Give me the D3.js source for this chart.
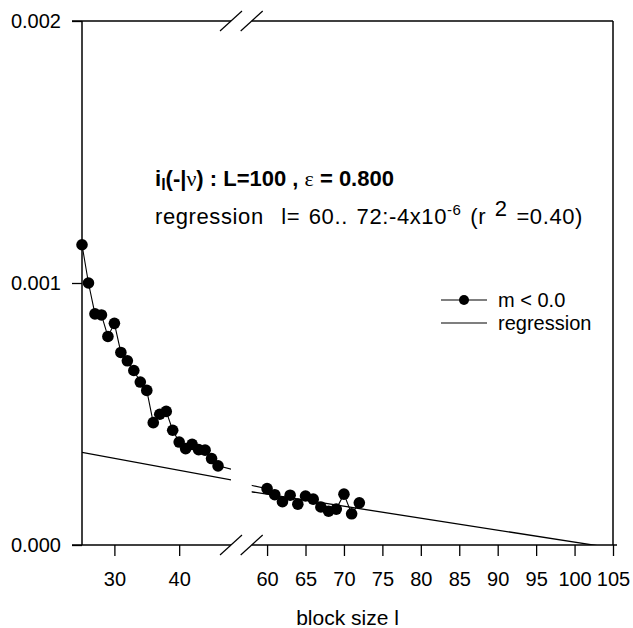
<!DOCTYPE html>
<html>
<head>
<meta charset="utf-8">
<script src="https://cdn.jsdelivr.net/npm/d3@7"></script>
<style>
  html, body { margin: 0; padding: 0; background: #fff; }
  svg { display: block; font-family: Arial, "Liberation Sans", sans-serif; }
</style>
</head>
<body>
<svg id="chart" width="633" height="628"></svg>
<script>
// block size l and i_l(-|v) values
const blockSize = [25, 26, 27, 28, 29, 30, 31, 32, 33, 34, 35, 36, 37, 38, 39, 40, 41, 42, 43, 44, 45, 46,
                   60, 61, 62, 63, 64, 65, 66, 67, 68, 69, 70, 71, 72];
const infoValues = [1.146e-3, 1.000e-3, 0.882e-3, 0.878e-3, 0.796e-3, 0.846e-3, 0.735e-3, 0.703e-3,
                    0.666e-3, 0.622e-3, 0.590e-3, 0.467e-3, 0.499e-3, 0.510e-3, 0.438e-3, 0.393e-3,
                    0.368e-3, 0.384e-3, 0.364e-3, 0.362e-3, 0.330e-3, 0.302e-3,
                    0.215e-3, 0.192e-3, 0.165e-3, 0.190e-3, 0.156e-3, 0.187e-3, 0.175e-3, 0.145e-3,
                    0.129e-3, 0.137e-3, 0.194e-3, 0.119e-3, 0.161e-3];

// regression line (l = 60..72 fit)
const regSlope = -4.57e-6;
const regIntercept = 4.68e-4;
const regRange = [25, 105];

const yTicks = [0, 0.001, 0.002];
const xTicksLeft = [30, 40];
const xTicksRight = [60, 65, 70, 75, 80, 85, 90, 95, 100, 105];

const legendLabels = ["m < 0.0", "regression"];

/* ── layout ─────────────────────────────── */
const TOP = 21, BOTTOM = 545, LEFT = 82, RIGHT = 613;
const BREAK_L = 231, BREAK_R = 251.7;

const svg = d3.select("#chart");

const y = d3.scaleLinear().domain([0, 0.002]).range([BOTTOM, TOP]);
const xL = d3.scaleLinear().domain([25, 48]).range([LEFT, BREAK_L]);
const xR = d3.scaleLinear().domain([58, 105]).range([BREAK_R, RIGHT]);

const defs = svg.append("defs");
defs.append("clipPath").attr("id", "clipL")
  .append("rect").attr("x", LEFT).attr("y", TOP).attr("width", BREAK_L - LEFT).attr("height", BOTTOM - TOP);
defs.append("clipPath").attr("id", "clipR")
  .append("rect").attr("x", BREAK_R).attr("y", TOP).attr("width", RIGHT - BREAK_R).attr("height", BOTTOM - TOP);

const series = blockSize.map((l, i) => ({ l, v: infoValues[i] }));
const regPts = regRange.map(l => ({ l, v: regIntercept + regSlope * l }));

/* ── data in each panel ─────────────────── */
[[xL, "clipL"], [xR, "clipR"]].forEach(([x, clip]) => {
  const line = d3.line().x(d => x(d.l)).y(d => y(d.v));
  const g = svg.append("g").attr("clip-path", `url(#${clip})`);

  g.append("path").datum(regPts)
    .attr("d", line)
    .attr("fill", "none")
    .attr("stroke", "#000")
    .attr("stroke-width", 1.3);

  g.append("path").datum(series)
    .attr("d", line)
    .attr("fill", "none")
    .attr("stroke", "#000")
    .attr("stroke-width", 1.1);

  const [d0, d1] = x.domain();
  svg.append("g").selectAll("circle")
    .data(series.filter(d => d.l >= d0 && d.l <= d1))
    .join("circle")
    .attr("cx", d => x(d.l))
    .attr("cy", d => y(d.v))
    .attr("r", 5.8)
    .attr("fill", "#000");
});

/* ── axes ───────────────────────────────── */
function styleAxis(g) {
  g.select(".domain").remove();
  g.selectAll(".tick line").attr("stroke", "#000").attr("stroke-width", 1.3);
  g.selectAll(".tick text")
    .attr("fill", "#000")
    .style("font-size", "20px")
    .style("font-family", "Arial, 'Liberation Sans', sans-serif");
}

svg.append("g")
  .attr("transform", `translate(${LEFT},0)`)
  .call(d3.axisLeft(y).tickValues(yTicks).tickFormat(d3.format(".3f")).tickSize(10).tickPadding(11))
  .call(styleAxis);

svg.append("g")
  .attr("transform", `translate(0,${BOTTOM})`)
  .call(d3.axisBottom(xL).tickValues(xTicksLeft).tickSize(11).tickPadding(16))
  .call(styleAxis);

svg.append("g")
  .attr("transform", `translate(0,${BOTTOM})`)
  .call(d3.axisBottom(xR).tickValues(xTicksRight).tickSize(11).tickPadding(16))
  .call(styleAxis);

/* ── frame with axis break ─────────────── */
const frame = svg.append("g").attr("stroke", "#000").attr("stroke-width", 1.5).attr("fill", "none");
frame.append("line").attr("x1", LEFT).attr("x2", LEFT).attr("y1", TOP).attr("y2", BOTTOM);
frame.append("line").attr("x1", RIGHT).attr("x2", RIGHT).attr("y1", TOP).attr("y2", BOTTOM);
[TOP, BOTTOM].forEach(yy => {
  frame.append("line").attr("x1", LEFT - 10).attr("x2", BREAK_L).attr("y1", yy).attr("y2", yy);
  frame.append("line").attr("x1", BREAK_R).attr("x2", RIGHT + (yy === BOTTOM ? 4 : 0)).attr("y1", yy).attr("y2", yy);
  [BREAK_L, BREAK_R].forEach(bx => {
    frame.append("line")
      .attr("stroke-width", 1.2)
      .attr("x1", bx - 11).attr("y1", yy + 10)
      .attr("x2", bx + 11).attr("y2", yy - 10);
  });
});

/* ── annotation ─────────────────────────── */
const t1 = svg.append("text")
  .attr("x", 155).attr("y", 186)
  .attr("font-size", 22).attr("font-weight", "bold");
t1.append("tspan").text("i");
t1.append("tspan").attr("font-size", 16).attr("dy", 4).text("l");
t1.append("tspan").attr("dy", -4).text("(-|");
t1.append("tspan").attr("font-weight", "normal").attr("font-family", "'Liberation Serif', serif").text("ν");
t1.append("tspan").text(") : L=100 , ");
t1.append("tspan").attr("font-weight", "normal").attr("font-family", "'Liberation Serif', serif").text("ε");
t1.append("tspan").text(" = 0.800");

const t2 = svg.append("text")
  .attr("x", 155).attr("y", 224)
  .attr("font-size", 22)
  .attr("letter-spacing", 0.6)
  .attr("word-spacing", 2)
  .style("white-space", "pre");
t2.append("tspan").text("regression  l= 60.. 72:-4x10");
t2.append("tspan").attr("font-size", 15).attr("dy", -9).text("-6");
t2.append("tspan").attr("dy", 9).text(" (r ");
t2.append("tspan").attr("dy", -8).text("2");
t2.append("tspan").attr("dy", 8).text(" =0.40)");

/* ── legend ─────────────────────────────── */
const legend = svg.append("g").attr("transform", "translate(441,300)");
legendLabels.forEach((label, i) => {
  const row = legend.append("g").attr("transform", `translate(0,${i * 23})`);
  row.append("line").attr("x1", 0).attr("x2", 46).attr("y1", 0).attr("y2", 0)
    .attr("stroke", "#000").attr("stroke-width", 1.2);
  if (i === 0) row.append("circle").attr("cx", 23).attr("cy", 0).attr("r", 5).attr("fill", "#000");
  row.append("text").attr("x", 57).attr("y", 0).attr("dy", "0.35em")
    .attr("font-size", 20).text(label);
});

/* ── axis title ─────────────────────────── */
svg.append("text")
  .attr("x", (LEFT + RIGHT) / 2).attr("y", 625)
  .attr("text-anchor", "middle")
  .attr("font-size", 21)
  .text("block size l");
</script>
</body>
</html>
